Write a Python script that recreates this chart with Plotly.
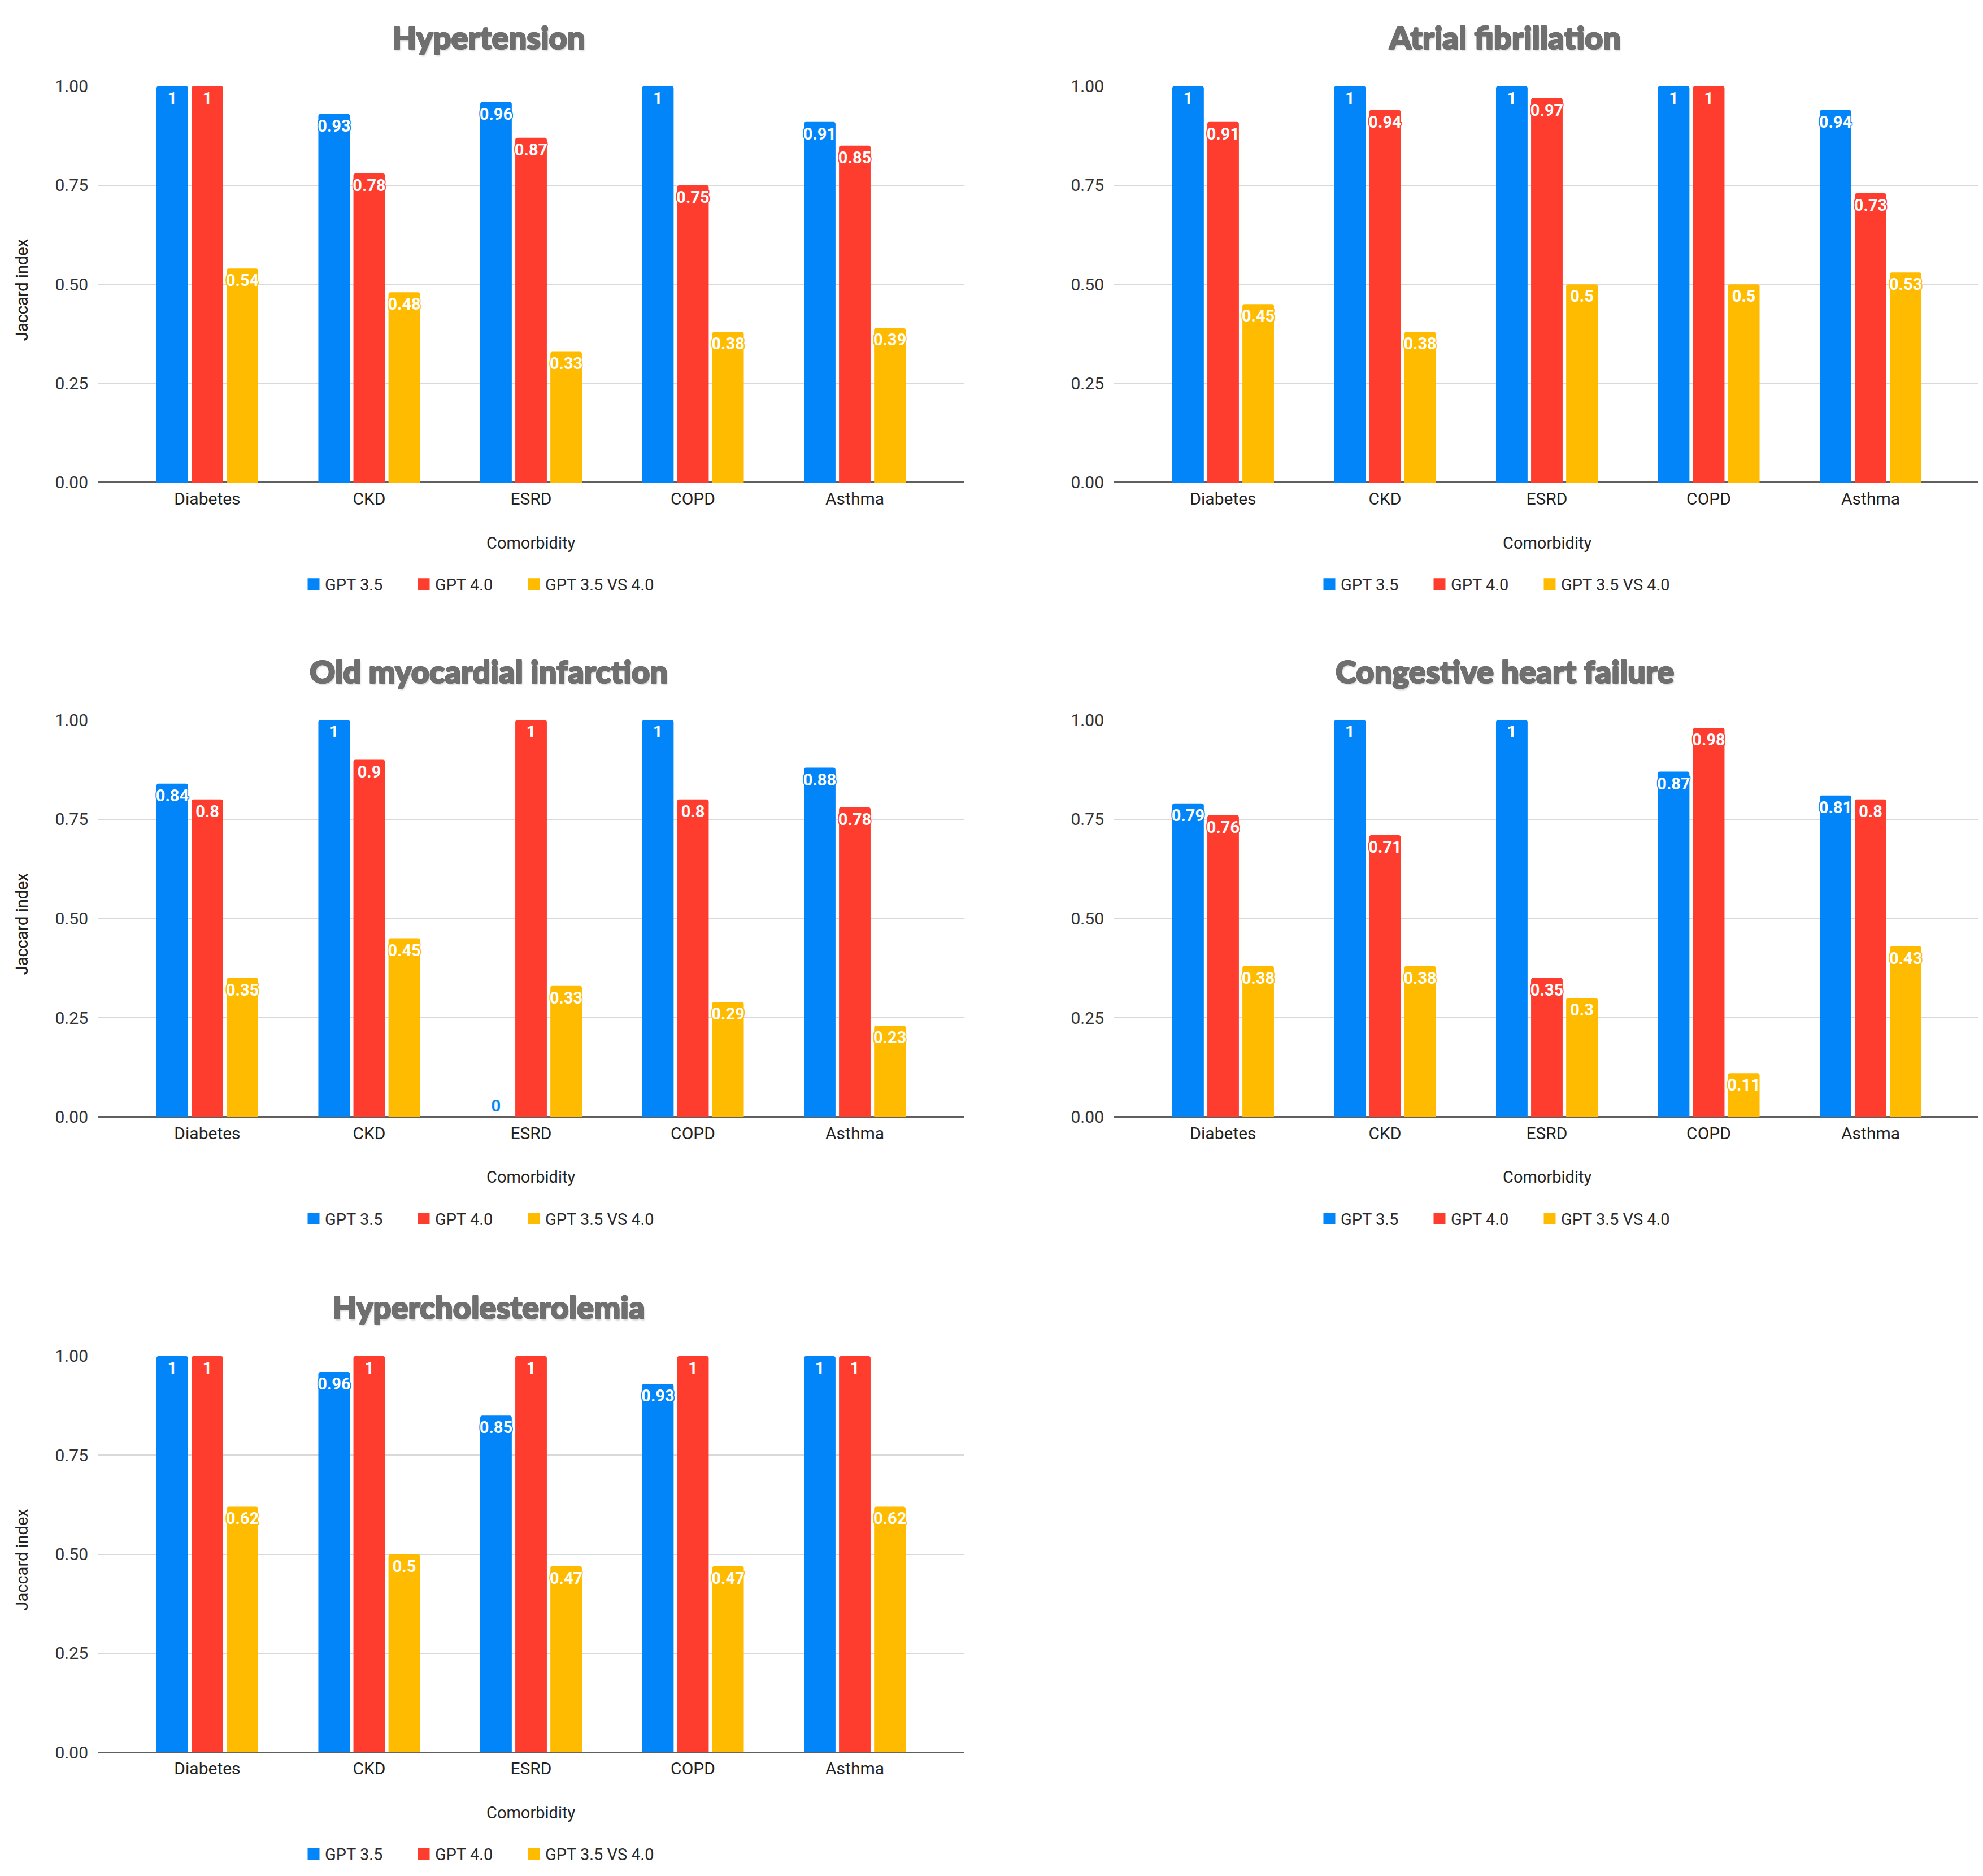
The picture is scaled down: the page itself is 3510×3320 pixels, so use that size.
import plotly.graph_objects as go

W, H = 3510, 3320

comorbidities = ['Diabetes', 'CKD', 'ESRD', 'COPD', 'Asthma']
series_names = ['GPT 3.5', 'GPT 4.0', 'GPT 3.5 VS 4.0']
colors = ['#0285F9', '#FF3D2F', '#FFBB00']

panel_titles = ['Hypertension', 'Atrial fibrillation', 'Old myocardial infarction',
                'Congestive heart failure', 'Hypercholesterolemia']

hypertension_gpt35 = [1, 0.93, 0.96, 1, 0.91]
hypertension_gpt40 = [1, 0.78, 0.87, 0.75, 0.85]
hypertension_vs = [0.54, 0.48, 0.33, 0.38, 0.39]

afib_gpt35 = [1, 1, 1, 1, 0.94]
afib_gpt40 = [0.91, 0.94, 0.97, 1, 0.73]
afib_vs = [0.45, 0.38, 0.5, 0.5, 0.53]

old_mi_gpt35 = [0.84, 1, 0, 1, 0.88]
old_mi_gpt40 = [0.8, 0.9, 1, 0.8, 0.78]
old_mi_vs = [0.35, 0.45, 0.33, 0.29, 0.23]

chf_gpt35 = [0.79, 1, 1, 0.87, 0.81]
chf_gpt40 = [0.76, 0.71, 0.35, 0.98, 0.8]
chf_vs = [0.38, 0.38, 0.3, 0.11, 0.43]

hyperchol_gpt35 = [1, 0.96, 0.85, 0.93, 1]
hyperchol_gpt40 = [1, 1, 1, 1, 1]
hyperchol_vs = [0.62, 0.5, 0.47, 0.47, 0.62]

panels = [
    [hypertension_gpt35, hypertension_gpt40, hypertension_vs],
    [afib_gpt35, afib_gpt40, afib_vs],
    [old_mi_gpt35, old_mi_gpt40, old_mi_vs],
    [chf_gpt35, chf_gpt40, chf_vs],
    [hyperchol_gpt35, hyperchol_gpt40, hyperchol_vs],
]

# pixel geometry of each panel (left, right) and (top gridline, baseline)
col_x = [(165, 1699), (1963, 3497)]
row_y = [(128, 837), (1262, 1972), (2400, 3109)]

FONT = 'Roboto, Arial, sans-serif'
TITLE_FONT = 'Lato, Roboto, Arial Black, sans-serif'
TITLE_GREY = '#6F6F6F'
LABEL_SIZE = 29


def outline(color, d=1.5):
    # css text-shadow ring, used to fake a stroke around text
    return ', '.join(f'{dx}px {dy}px 0 {color}' for dx, dy in
                     [(d, 0), (-d, 0), (0, d), (0, -d), (d, d), (-d, -d), (d, -d), (-d, d)])


# thicken the title strokes a little, the source uses a black-weight face
TITLE_SHADOW = outline(TITLE_GREY, 1) + ', 2px 3px 3px rgba(0,0,0,0.18)'


def px_x(x):
    return x / W


def px_y(y):
    return 1 - y / H


fig = go.Figure()
layout = dict(annotations=[])

for i, data in enumerate(panels):
    r, c = divmod(i, 2)
    x0, x1 = col_x[c]
    y0, y1 = row_y[r]
    n = '' if i == 0 else str(i + 1)
    leg = 'legend' + n

    for k, vals in enumerate(data):
        # a zero bar has no room inside, so its label sits outside in the series colour
        positions = ['outside' if v == 0 else 'inside' for v in vals]
        fig.add_trace(go.Bar(
            x=comorbidities, y=vals, name=series_names[k],
            marker=dict(color=colors[k], cornerradius=4, line=dict(width=0)),
            text=[f'{v:g}' for v in vals],
            textposition=positions, insidetextanchor='end', textangle=0,
            constraintext='none',
            insidetextfont=dict(family=FONT, size=LABEL_SIZE, color='white', weight='bold',
                                shadow=outline(colors[k])),
            outsidetextfont=dict(family=FONT, size=LABEL_SIZE, color=colors[k], weight='bold',
                                 shadow=outline('white')),
            xaxis='x' + n, yaxis='y' + n, showlegend=False,
        ))
        # legend entry with a larger square swatch
        fig.add_trace(go.Scatter(
            x=[None], y=[None], mode='markers', name=series_names[k],
            marker=dict(symbol='square', size=16, color=colors[k],
                        line=dict(color=colors[k], width=5)),
            xaxis='x' + n, yaxis='y' + n, legend=leg, showlegend=True,
            hoverinfo='skip',
        ))
    # blank spacer entry so the fixed entry width does not clip the last label
    fig.add_trace(go.Scatter(
        x=[None], y=[None], mode='markers', name=' ',
        marker=dict(size=1, color='rgba(0,0,0,0)'),
        xaxis='x' + n, yaxis='y' + n, legend=leg, showlegend=True,
        hoverinfo='skip',
    ))

    layout['xaxis' + n] = dict(
        domain=[px_x(x0), px_x(x1)], anchor='y' + n,
        range=[-0.677, 4.677], showgrid=False, showline=False, ticks='',
        tickfont=dict(family=FONT, size=30, color='#222222'),
        ticklabelstandoff=8,
    )
    layout['yaxis' + n] = dict(
        domain=[px_y(y1), px_y(y0)], anchor='x' + n,
        range=[0, 1], tickvals=[0, 0.25, 0.5, 0.75, 1], tickformat='.2f',
        showgrid=True, gridcolor='#D9D9D9', gridwidth=2,
        zeroline=True, zerolinecolor='#5F5F5F', zerolinewidth=3,
        showline=False, ticks='', ticklabelstandoff=16,
        tickfont=dict(family=FONT, size=30, color='#333333'),
    )

    cx = (x0 + x1) / 2 - 75
    layout[leg] = dict(
        orientation='h', x=px_x(cx - 330), xanchor='left',
        y=px_y(y1 + 182), yanchor='middle',
        font=dict(family=FONT, size=29, color='#2A2A2A'),
        itemsizing='trace', entrywidth=150, entrywidthmode='pixels',
        bgcolor='rgba(0,0,0,0)', itemclick=False, itemdoubleclick=False,
    )

    layout['annotations'] += [
        dict(text=panel_titles[i], x=px_x(cx), y=px_y(y0 - 88),
             xref='paper', yref='paper', showarrow=False,
             xanchor='center', yanchor='middle',
             font=dict(family=TITLE_FONT, size=56, color=TITLE_GREY, weight=900,
                       shadow=TITLE_SHADOW)),
        dict(text='Comorbidity', x=px_x((x0 + x1) / 2), y=px_y(y1 + 108),
             xref='paper', yref='paper', showarrow=False,
             xanchor='center', yanchor='middle',
             font=dict(family=FONT, size=29, color='#222222')),
        dict(text='Jaccard index', x=px_x(31), y=px_y((y0 + y1) / 2 + 10),
             xref='paper', yref='paper', showarrow=False, textangle=-90,
             xanchor='center', yanchor='middle',
             font=dict(family=FONT, size=29, color='#222222')),
    ]

fig.update_layout(
    width=W, height=H, autosize=False,
    margin=dict(l=0, r=0, t=0, b=0),
    paper_bgcolor='white', plot_bgcolor='white',
    barmode='group', bargap=0.35, bargroupgap=0.1,
    # keep every bar label at full size even when it is wider than the bar
    uniformtext=dict(minsize=LABEL_SIZE, mode='show'),
    font=dict(family=FONT, color='#333333'),
    **layout,
)

fig.write_html("out.html")
